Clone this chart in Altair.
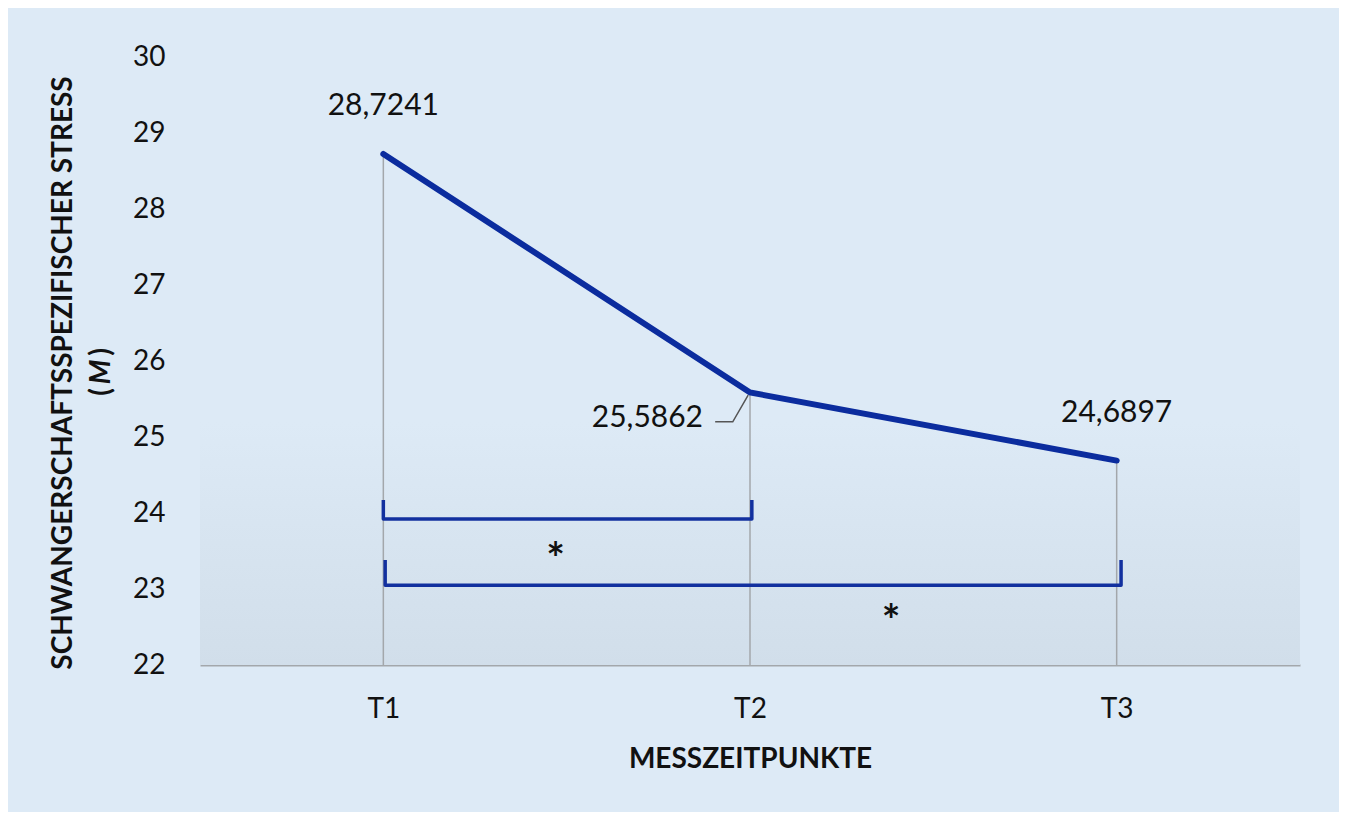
import altair as alt
import pandas as pd

# ---- data ----
times = ["T1", "T2", "T3"]
t_pos = [1, 2, 3]
means = [28.7241, 25.5862, 24.6897]
mean_labels = ["28,7241", "25,5862", "24,6897"]

# significance brackets (data units)
bracket_id = ["b1", "b1", "b1", "b1", "b2", "b2", "b2", "b2"]
bracket_order = [0, 1, 2, 3, 0, 1, 2, 3]
bracket_x = [1.0, 1.0, 2.005, 2.005, 1.005, 1.005, 3.012, 3.012]
bracket_y = [24.17, 23.92, 23.92, 24.17, 23.38, 23.05, 23.05, 23.38]

star_x = [1.47, 2.385]
star_y = [23.37, 22.55]

# leader line for T2 label
leader_x = [1.905, 1.953, 1.995]
leader_y = [25.20, 25.20, 25.55]

BG = "#ddeaf6"
LINE = "#0b2c9e"
GRAY = "#a3a7ab"
FONT = "Lato"

df = pd.DataFrame({"t": t_pos, "time": times, "mean": means, "label": mean_labels})
bdf = pd.DataFrame({"id": bracket_id, "o": bracket_order, "x": bracket_x, "y": bracket_y})
sdf = pd.DataFrame({"x": star_x, "y": star_y, "s": ["*", "*"]})
ldf = pd.DataFrame({"x": leader_x, "y": leader_y, "o": [0, 1, 2]})

xscale = alt.Scale(domain=[0.5, 3.5], nice=False, zero=False)
yscale = alt.Scale(domain=[22, 30], nice=False, zero=False)

xenc = alt.X(
    "t:Q",
    scale=xscale,
    axis=alt.Axis(
        values=t_pos,
        labelExpr="'T' + datum.value",
        title="MESSZEITPUNKTE",
        ticks=False,
        grid=False,
        domainColor=GRAY,
        domainWidth=2,
        labelPadding=30,
        labelFontSize=28,
        labelFont=FONT,
        labelColor="#111111",
        titleFont=FONT,
        titleFontSize=28,
        titleFontWeight="bold",
        titleColor="#111111",
        titlePadding=22,
    ),
)
yenc = alt.Y(
    "mean:Q",
    scale=yscale,
    axis=alt.Axis(
        values=list(range(22, 31)),
        format="d",
        title=None,
        ticks=False,
        grid=False,
        domain=False,
        labelPadding=35,
        labelFontSize=28,
        labelFont=FONT,
        labelColor="#111111",
    ),
)

grad = alt.LinearGradient(
    gradient="linear",
    stops=[alt.GradientStop(color=BG, offset=0), alt.GradientStop(color="#d1deea", offset=1)],
    x1=0, x2=0, y1=0, y2=1,
)
band = alt.Chart(pd.DataFrame({"a": [0]})).mark_rect(color=grad).encode(
    x=alt.value(0), x2=alt.value(1100), y=alt.value(365), y2=alt.value(608)
)

base = alt.Chart(df)
drops = base.mark_rule(color=GRAY, strokeWidth=1.5).encode(
    x=xenc, y=yenc, y2=alt.datum(22)
)
line = base.mark_line(color=LINE, strokeWidth=6, strokeCap="round").encode(x=xenc, y=yenc)

lab13 = base.transform_filter("datum.t != 2").mark_text(
    font=FONT, fontSize=30, color="#111111", dy=-48
).encode(x=alt.X("t:Q", scale=xscale), y=alt.Y("mean:Q", scale=yscale), text="label:N")
lab2 = base.transform_filter("datum.t == 2").mark_text(
    font=FONT, fontSize=30, color="#111111", align="right", dx=-47, dy=26
).encode(x=alt.X("t:Q", scale=xscale), y=alt.Y("mean:Q", scale=yscale), text="label:N")

leader = alt.Chart(ldf).mark_line(color="#555555", strokeWidth=1.5).encode(
    x=alt.X("x:Q", scale=xscale), y=alt.Y("y:Q", scale=yscale), order="o:Q"
)

brackets = alt.Chart(bdf).mark_line(color="#12309f", strokeWidth=3.5, strokeJoin="round").encode(
    x=alt.X("x:Q", scale=xscale),
    y=alt.Y("y:Q", scale=yscale),
    detail="id:N",
    order="o:Q",
)
stars = alt.Chart(sdf).mark_text(font=FONT, fontSize=44, fontWeight="bold", color="#111111").encode(
    x=alt.X("x:Q", scale=xscale), y=alt.Y("y:Q", scale=yscale), text="s:N"
)

ytitle1 = alt.Chart(pd.DataFrame({"s": ["SCHWANGERSCHAFTSSPEZIFISCHER STRESS"]})).mark_text(
    font=FONT, fontSize=28, fontWeight="bold", angle=270, color="#111111"
).encode(x=alt.value(-136), y=alt.value(316), text="s:N")
ypar = pd.DataFrame({"s": ["(", ")"], "yy": [335, 295]})
ytitle2 = alt.Chart(ypar).mark_text(
    font=FONT, fontSize=28, fontWeight="bold", angle=270, color="#111111"
).encode(x=alt.value(-98), y=alt.Y("yy:Q", scale=None), text="s:N")
ytitle3 = alt.Chart(pd.DataFrame({"s": ["M"]})).mark_text(
    font=FONT, fontSize=28, fontWeight="bold", fontStyle="italic", angle=270, color="#111111"
).encode(x=alt.value(-98), y=alt.value(315), text="s:N")

chart = alt.layer(
    band, drops, line, leader, lab13, lab2, brackets, stars, ytitle1, ytitle2, ytitle3
).properties(
    width=1100,
    height=608,
    background=BG,
    padding={"left": 192, "top": 49, "right": 39, "bottom": 147},
    autosize=alt.AutoSizeParams(type="none"),
).configure_view(stroke=None)

chart.save("out.html", embed_options={"renderer": "svg", "actions": False})
